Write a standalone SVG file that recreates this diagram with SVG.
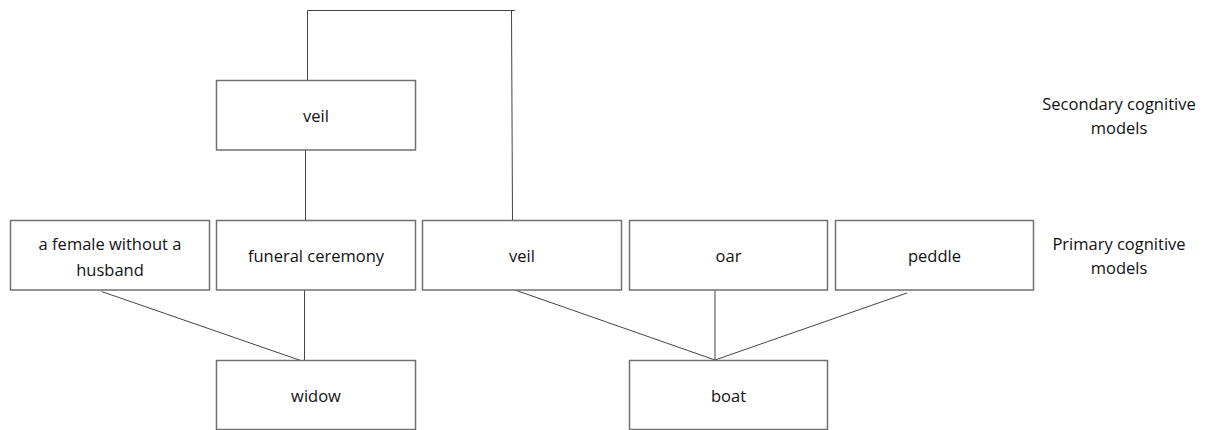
<svg xmlns="http://www.w3.org/2000/svg" width="1207" height="430" viewBox="0 0 1207 430">
<style>
.box{fill:#fff;stroke:#707070;stroke-width:1.5}
.ln{fill:none;stroke:#444;stroke-width:1}
.t{font-family:"Open Sans","Liberation Sans",Arial,sans-serif;font-size:16.5px;fill:#111;text-anchor:middle}
</style>
<rect width="1207" height="430" fill="#fff"/>
<g id="connectors">
<polyline class="ln" points="307.5,80 307.5,10.5 515,10.5"/>
<line class="ln" x1="511.5" y1="10.5" x2="512.5" y2="220"/>
<line class="ln" x1="305.5" y1="150" x2="305.5" y2="220"/>
<line class="ln" x1="304.5" y1="290" x2="304.5" y2="360"/>
<line class="ln" x1="101.5" y1="291.5" x2="305" y2="362"/>
<line class="ln" x1="515" y1="290" x2="715" y2="360"/>
<line class="ln" x1="715" y1="290" x2="715" y2="360"/>
<line class="ln" x1="907" y1="293" x2="715" y2="360"/>
</g>
<g id="veil-secondary"><rect class="box" x="216.5" y="80.5" width="199" height="69.5"/><text class="t" x="316" y="122">veil</text></g>
<g id="female"><rect class="box" x="10.5" y="220.5" width="199" height="69.5"/><text class="t" x="110" y="250">a female without a</text><text class="t" x="110" y="276">husband</text></g>
<g id="funeral"><rect class="box" x="216.5" y="220.5" width="199" height="69.5"/><text class="t" x="316" y="262">funeral ceremony</text></g>
<g id="veil"><rect class="box" x="422.5" y="220.5" width="199" height="69.5"/><text class="t" x="522" y="262">veil</text></g>
<g id="oar"><rect class="box" x="629.5" y="220.5" width="198" height="69.5"/><text class="t" x="728.5" y="262">oar</text></g>
<g id="peddle"><rect class="box" x="835.5" y="220.5" width="198" height="69.5"/><text class="t" x="934.5" y="262">peddle</text></g>
<g id="widow"><rect class="box" x="216.5" y="360.5" width="199" height="69"/><text class="t" x="316" y="402">widow</text></g>
<g id="boat"><rect class="box" x="629.5" y="360.5" width="198" height="69"/><text class="t" x="728.5" y="402">boat</text></g>
<g id="label-secondary"><text class="t" x="1119" y="110">Secondary cognitive</text><text class="t" x="1119" y="134">models</text></g>
<g id="label-primary"><text class="t" x="1119" y="250">Primary cognitive</text><text class="t" x="1119" y="274">models</text></g>
</svg>
